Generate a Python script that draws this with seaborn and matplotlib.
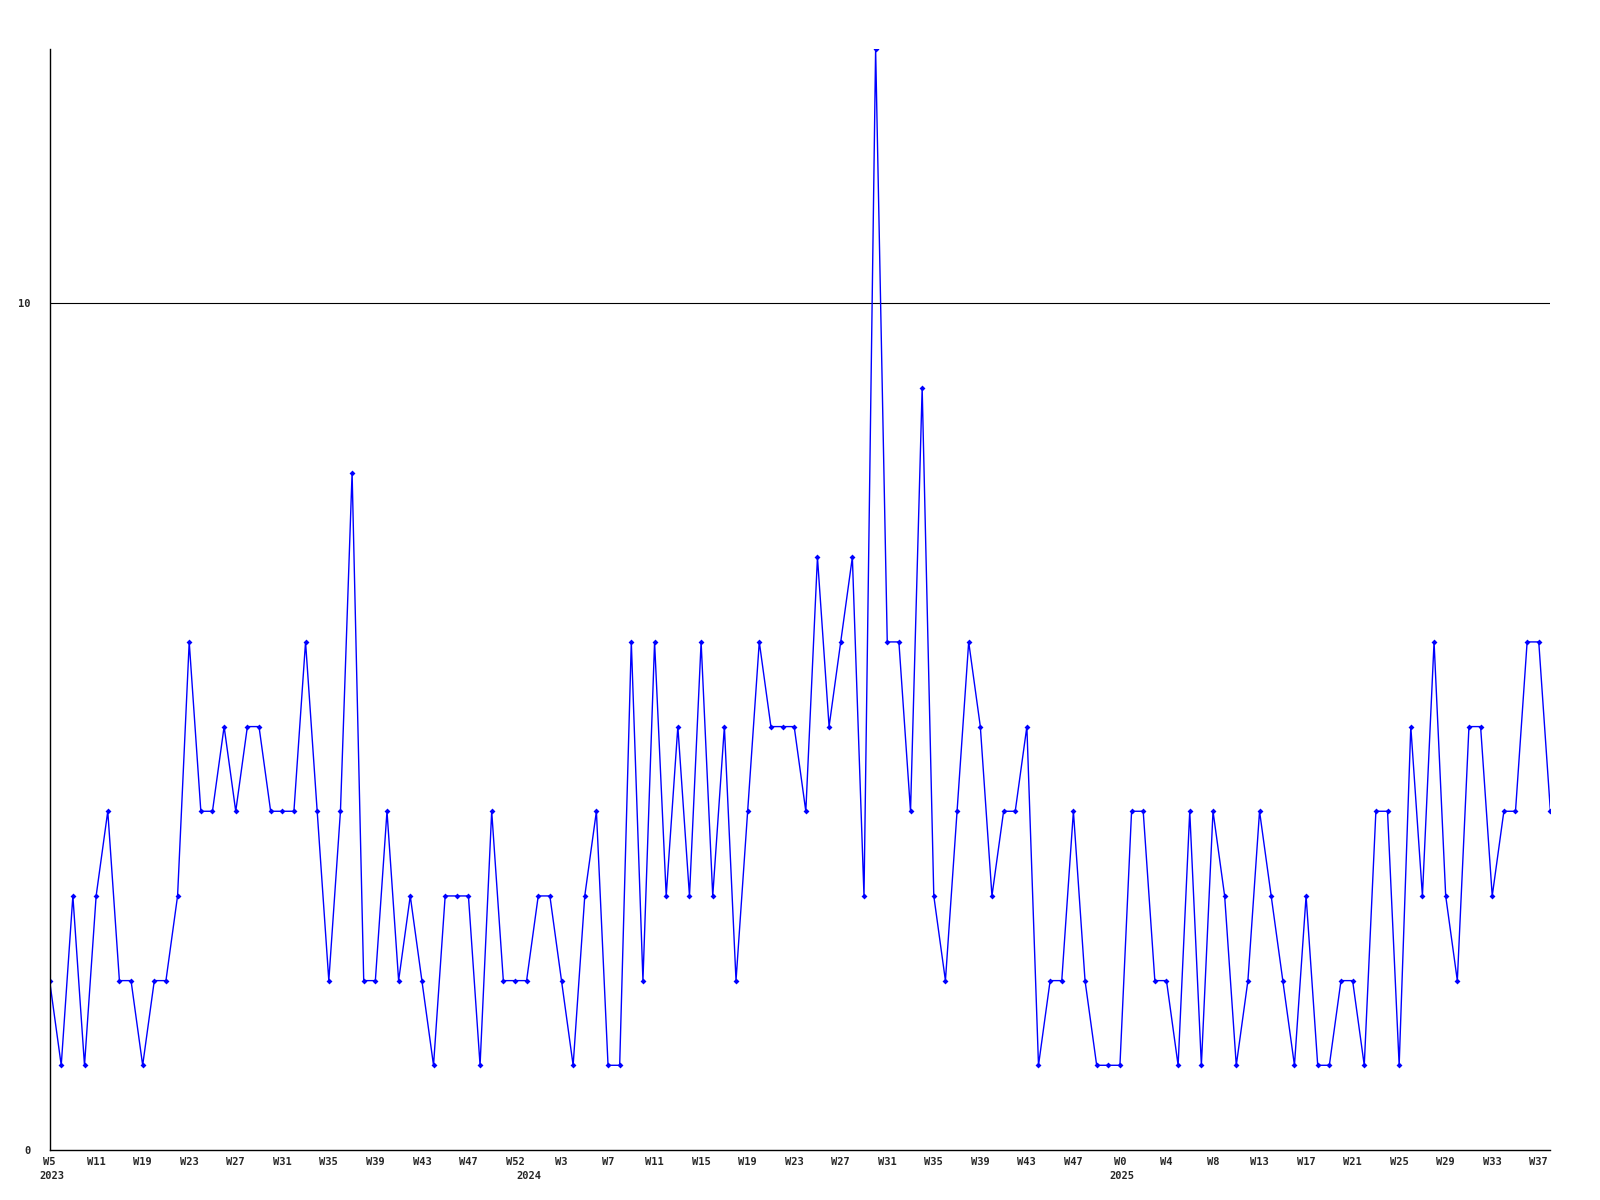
import matplotlib
matplotlib.use('Agg')
import matplotlib.pyplot as plt
import matplotlib.transforms as mtransforms
import seaborn as sns
import pandas as pd

# weekly counts, one per point
values = [2, 1, 3, 1, 3, 4, 2, 2, 1, 2, 2, 3, 6, 4, 4, 5, 4,
          5, 5, 4, 4, 4, 6, 4, 2, 4, 8, 2, 2, 4, 2, 3, 2,
          1, 3, 3, 3, 1, 4, 2, 2, 2, 3, 3, 2, 1, 3, 4, 1, 1,
          6, 2, 6, 3, 5, 3, 6, 3, 5, 2, 4, 6, 5, 5, 5, 4,
          7, 5, 6, 7, 3, 13, 6, 6, 4, 9, 3, 2, 4, 6, 5, 3,
          4, 4, 5, 1, 2, 2, 4, 2, 1, 1, 1, 4, 4, 2, 2, 1,
          4, 1, 4, 3, 1, 2, 4, 3, 2, 1, 3, 1, 1, 2, 2, 1,
          4, 4, 1, 5, 3, 6, 3, 2, 5, 5, 3, 4, 4, 6, 6, 4]

# every 4th point carries a week label
week_labels = ['W5', 'W11', 'W19', 'W23', 'W27', 'W31', 'W35', 'W39', 'W43',
               'W47', 'W52', 'W3', 'W7', 'W11', 'W15', 'W19', 'W23', 'W27',
               'W31', 'W35', 'W39', 'W43', 'W47', 'W0', 'W4', 'W8', 'W13',
               'W17', 'W21', 'W25', 'W29', 'W33', 'W37']
years = ['2023', '2024', '2025']
year_start = [0, 41, 92]

df = pd.DataFrame({'idx': range(len(values)), 'count': values})

sns.set_style('white')
plt.rcParams['font.family'] = ['DejaVu Sans Mono']

fig = plt.figure(figsize=(16, 12), dpi=100)
ax = fig.add_axes([0.031, 0.0417, 0.938, 0.9173])

sns.lineplot(data=df, x='idx', y='count', ax=ax, color='#0000ff', lw=1,
             marker='D', markersize=3, markeredgewidth=0)

ax.axhline(10, color='black', lw=0.8, zorder=0)
ax.set_ylim(0, 13)
ax.set_xlim(0, len(values) - 1)
ax.set_yticks([0, 10])
ax.set_yticklabels(['0', '10'], fontsize=7.5, fontweight='bold')
ax.set_xticks(range(0, 4 * len(week_labels), 4))
ax.set_xticklabels(week_labels, fontsize=7.5, fontweight='bold')
ax.tick_params(axis='both', length=0, pad=5)
ax.tick_params(axis='y', pad=14)
ax.set_xlabel('')
ax.set_ylabel('')
for s in ['top', 'right']:
    ax.spines[s].set_visible(False)
for s in ['left', 'bottom']:
    ax.spines[s].set_color('black')
    ax.spines[s].set_linewidth(1)

trans = mtransforms.blended_transform_factory(ax.transData, ax.transAxes)
for yr, i in zip(years, year_start):
    ax.text(i - 0.9, -0.024, yr, transform=trans, ha='left', va='center',
            fontsize=7.5, fontweight='bold')

fig.savefig('out.png', dpi=100, facecolor='white')
